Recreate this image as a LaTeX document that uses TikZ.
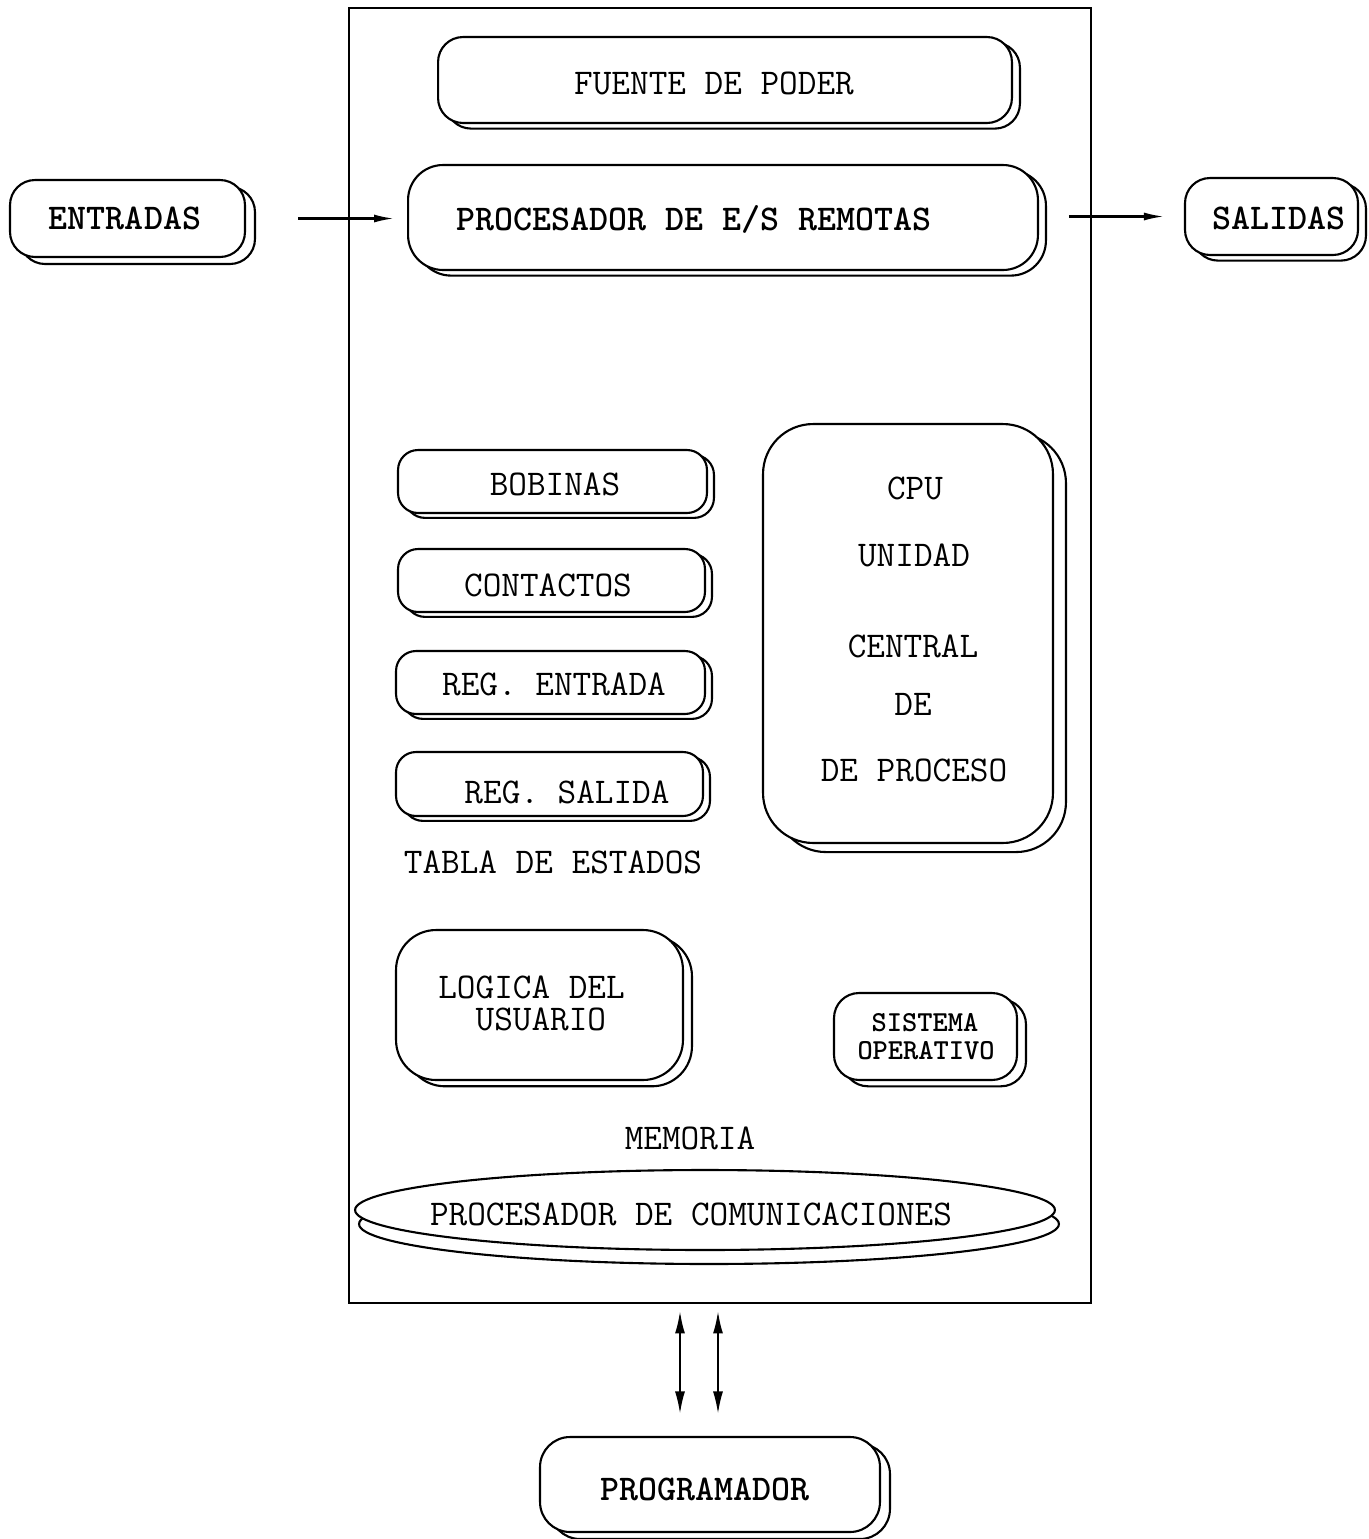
\documentclass[tikz,border=0pt]{standalone}
\usepackage{fontspec}
\usetikzlibrary{shapes.geometric,shadows,arrows.meta,calc}
\begin{document}
\begin{tikzpicture}[x=0.02cm,y=-0.02cm,
  ln/.style={line width=1.2pt},
  sbox/.style={ln,draw,fill=white,rectangle,inner sep=0pt,
    general shadow={shadow xshift=#1,shadow yshift=-0.7*#1,draw=black,fill=white,line width=1.2pt}},
  sbox/.default=0.16cm,
  txt/.style={font=\ttfamily\fontsize{20.6}{22}\selectfont,inner sep=0pt},
  btxt/.style={font=\ttfamily\bfseries\fontsize{20.6}{22}\selectfont,inner sep=0pt},
  stxt/.style={font=\ttfamily\bfseries\fontsize{16.5}{18}\selectfont,inner sep=0pt},
  arr/.style={ln,-{Latex[length=0.4cm,width=0.16cm]}},
  darr/.style={ln,{Latex[length=0.45cm,width=0.2cm]}-{Latex[length=0.45cm,width=0.2cm]}}
]
\useasboundingbox (0,0) rectangle (1369,1539);

% outer frame
\node[ln,draw,rectangle,minimum width=14.84cm,minimum height=25.9cm] (outer) at (720,655.5) {};

% top boxes
\node[sbox,rounded corners=0.5cm,minimum width=11.48cm,minimum height=1.72cm] (fuente) at (725,80) {};
\node[txt] (fuente-t) at (714,83) {FUENTE DE PODER};

\node[sbox,rounded corners=0.7cm,minimum width=12.6cm,minimum height=2.1cm] (proc) at (723,217.5) {};
\node[btxt] (proc-t) at (694,219) {PROCESADOR DE E/S REMOTAS};

\node[sbox=0.2cm,rounded corners=0.5cm,minimum width=4.7cm,minimum height=1.54cm] (ent) at (127.5,218.5) {};
\node[btxt] (ent-t) at (125,218) {ENTRADAS};

\node[sbox,rounded corners=0.5cm,minimum width=3.46cm,minimum height=1.54cm] (sal) at (1271.5,216.5) {};
\node[btxt] (sal-t) at (1279,218) {SALIDAS};

\draw[arr,shorten <=1.04cm,shorten >=0.26cm] (ent.east) -- (proc.west |- ent.east);
\draw[arr,shorten <=0.6cm,shorten >=0.4cm] (proc.east |- sal.west) -- (sal.west);

% status table
\node[sbox=0.14cm,rounded corners=0.4cm,minimum width=6.18cm,minimum height=1.26cm] (bob) at (552.5,481.5) {};
\node[txt] (bob-t) at (555,484) {BOBINAS};
\node[sbox=0.14cm,rounded corners=0.4cm,minimum width=6.14cm,minimum height=1.26cm] (con) at (551.5,580.5) {};
\node[txt] (con-t) at (548,585) {CONTACTOS};
\node[sbox=0.14cm,rounded corners=0.4cm,minimum width=6.18cm,minimum height=1.26cm] (rege) at (550.5,682.5) {};
\node[txt] (rege-t) at (554,684) {REG. ENTRADA};
\node[sbox=0.14cm,rounded corners=0.4cm,minimum width=6.14cm,minimum height=1.28cm] (regs) at (549.5,784) {};
\node[txt] (regs-t) at (567,792) {REG. SALIDA};
\node[txt] (tabla) at (553,862) {TABLA DE ESTADOS};

% CPU
\node[sbox=0.26cm,rounded corners=1cm,minimum width=5.8cm,minimum height=8.38cm] (cpu) at (908,633.5) {};
\node[txt] (cpu1) at (915,488) {CPU};
\node[txt] (cpu2) at (914,555) {UNIDAD};
\node[txt] (cpu3) at (913,646) {CENTRAL};
\node[txt] (cpu4) at (913,704) {DE};
\node[txt] (cpu5) at (914,770) {DE PROCESO};

% memory
\node[sbox=0.18cm,rounded corners=0.8cm,minimum width=5.74cm,minimum height=3.0cm] (logica) at (539.5,1005) {};
\node[font=\ttfamily\fontsize{20.6}{18.1}\selectfont,inner sep=0pt,align=left,anchor=north west] (log-t) at (438,976) {LOGICA DEL\\\ \ USUARIO};

\node[sbox=0.18cm,rounded corners=0.5cm,minimum width=3.66cm,minimum height=1.74cm] (sist) at (925.5,1036.5) {};
\node[stxt] (sist1) at (925,1023) {SISTEMA};
\node[stxt] (sist2) at (926,1051) {OPERATIVO};

\node[txt] (mem) at (690,1138) {MEMORIA};

% communications processor
\node[ln,draw,fill=white,ellipse,inner sep=0pt,minimum width=14cm,minimum height=1.6cm,
  general shadow={shadow xshift=0.08cm,shadow yshift=-0.28cm,draw=black,fill=white,line width=1.2pt}] (com) at (705,1210) {};
\node[txt] (com-t) at (691,1214) {PROCESADOR DE COMUNICACIONES};

% programmer
\node[sbox=0.2cm,rounded corners=0.6cm,minimum width=6.8cm,minimum height=1.9cm] (prog) at (710,1484.5) {};
\node[btxt] (prog-t) at (705,1489) {PROGRAMADOR};

\coordinate (a1) at (680,1360);
\coordinate (a2) at (718,1360);
\draw[darr,shorten <=0.14cm,shorten >=0.44cm] (outer.south -| a1) -- (prog.north -| a1);
\draw[darr,shorten <=0.14cm,shorten >=0.44cm] (outer.south -| a2) -- (prog.north -| a2);
\end{tikzpicture}
\end{document}
